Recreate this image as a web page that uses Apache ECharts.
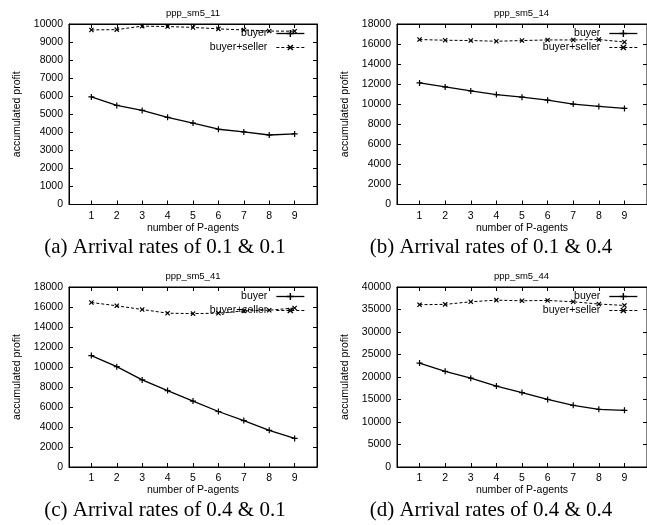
<!DOCTYPE html>
<html>
<head>
<meta charset="utf-8">
<script src="https://cdn.jsdelivr.net/npm/echarts@6/dist/echarts.min.js"></script>
<style>
html,body{margin:0;padding:0;background:#fff;}
#c{width:647px;height:525px;}
</style>
</head>
<body>
<div id="c"></div>
<script>
// ---- data ----
const xValues = [1, 2, 3, 4, 5, 6, 7, 8, 9];
const seriesNames = ['buyer', 'buyer+seller'];
const panelTitles = ['ppp_sm5_11', 'ppp_sm5_14', 'ppp_sm5_41', 'ppp_sm5_44'];
const captions = ['(a) Arrival rates of 0.1 & 0.1', '(b) Arrival rates of 0.1 & 0.4',
                  '(c) Arrival rates of 0.4 & 0.1', '(d) Arrival rates of 0.4 & 0.4'];
const aBuyer = [5960, 5490, 5210, 4830, 4510, 4170, 4020, 3850, 3910];
const aBoth  = [9670, 9690, 9880, 9860, 9810, 9730, 9670, 9610, 9600];
const bBuyer = [12120, 11720, 11330, 10960, 10700, 10400, 10010, 9780, 9580];
const bBoth  = [16450, 16380, 16350, 16280, 16350, 16410, 16410, 16450, 16200];
const cBuyer = [11140, 10030, 8710, 7640, 6590, 5550, 4640, 3670, 2860];
const cBoth  = [16450, 16120, 15750, 15380, 15340, 15380, 15610, 15680, 15900];
const dBuyer = [23100, 21270, 19740, 17990, 16530, 15010, 13700, 12820, 12600];
const dBoth  = [36070, 36140, 36720, 37080, 36940, 37010, 36720, 36210, 35900];
const yMax = [10000, 18000, 18000, 40000];
const yStep = [1000, 2000, 2000, 5000];

// ---- layout ----
const panels = [
  {left: 69,  top: 24,  width: 248, height: 180.5, buyer: aBuyer, both: aBoth},
  {left: 397, top: 24,  width: 253, height: 180.5, buyer: bBuyer, both: bBoth},
  {left: 69,  top: 287, width: 248, height: 180, buyer: cBuyer, both: cBoth},
  {left: 397, top: 287, width: 253, height: 180, buyer: dBuyer, both: dBoth}
];
const SANS = 'Liberation Sans, Arial, sans-serif';
const SERIF = 'Liberation Serif, Times New Roman, serif';
const plusPath = 'path://M4,0h2v4h4v2h-4v4h-2v-4h-4v-2h4z';
const dashPattern = [3, 2];

const grid = [], xAxis = [], yAxis = [], series = [], title = [], legend = [];
panels.forEach((p, i) => {
  grid.push({left: p.left, top: p.top, width: p.width, height: p.height,
             show: true, borderColor: '#000', borderWidth: 1, backgroundColor: 'transparent'});
  const xBase = {gridIndex: i, type: 'value', min: 0.12, max: 9.88,
    splitLine: {show: false},
    axisLine: {show: true, onZero: false, lineStyle: {color: '#000', width: 1}},
    axisTick: {show: true, inside: true, length: 4, customValues: xValues, lineStyle: {color: '#000'}},
    axisLabel: {show: true, customValues: xValues, color: '#000', fontSize: 10.5, fontFamily: SANS, margin: 6}
  };
  xAxis.push(Object.assign({}, xBase, {position: 'bottom', name: 'number of P-agents',
    nameLocation: 'middle', nameGap: 17, nameTextStyle: {color: '#000', fontSize: 10.5, fontFamily: SANS}}));
  xAxis.push(Object.assign({}, xBase, {position: 'top', axisLabel: {show: false}}));
  const yBase = {gridIndex: i, type: 'value', min: 0, max: yMax[i], interval: yStep[i],
    splitLine: {show: false},
    axisLine: {show: true, onZero: false, lineStyle: {color: '#000', width: 1}},
    axisTick: {show: true, inside: true, length: 4, lineStyle: {color: '#000'}},
    axisLabel: {show: true, color: '#000', fontSize: 10.5, fontFamily: SANS, margin: 6,
                formatter: v => String(v)}
  };
  yAxis.push(Object.assign({}, yBase, {position: 'left', name: 'accumulated profit',
    nameLocation: 'middle', nameRotate: 90, nameGap: 46,
    nameTextStyle: {color: '#000', fontSize: 10.5, fontFamily: SANS}}));
  yAxis.push(Object.assign({}, yBase, {position: 'right', axisLabel: {show: false}}));

  series.push({name: 'buyer', type: 'line', xAxisIndex: 2 * i, yAxisIndex: 2 * i,
    data: xValues.map((x, k) => [x, p.buyer[k]]),
    symbol: plusPath, symbolSize: 6, showAllSymbol: true,
    lineStyle: {color: '#000', width: 1.3, type: 'solid'},
    itemStyle: {color: '#000'}, animation: false});
  series.push({name: 'buyer+seller', type: 'line', xAxisIndex: 2 * i, yAxisIndex: 2 * i,
    data: xValues.map((x, k) => [x, p.both[k]]),
    symbol: plusPath, symbolRotate: 45, symbolSize: 6, showAllSymbol: true,
    lineStyle: {color: '#000', width: 1, type: dashPattern},
    itemStyle: {color: '#000'}, animation: false});

  title.push({text: panelTitles[i], left: p.left + p.width / 2 - (i % 2 ? 2 : 0), top: p.top - 16,
    textAlign: 'center', padding: 0,
    textStyle: {color: '#000', fontSize: 9.5, fontWeight: 'normal', fontFamily: SANS}});
  title.push({text: captions[i], left: (i % 2 ? 491 : 165), top: p.top + 213,
    textAlign: 'center', padding: 0,
    textStyle: {color: '#000', fontSize: 21, fontWeight: 'normal', fontFamily: SERIF}});

  legend.push({
    data: [
      {name: seriesNames[0], lineStyle: {width: 1.3, type: 'solid', color: '#000'}},
      {name: seriesNames[1], lineStyle: {width: 1, type: dashPattern, color: '#000'}}
    ],
    orient: 'vertical', align: 'right',
    right: 647 - (p.left + p.width - 12), top: p.top + 4,
    itemWidth: 28, itemHeight: 9, itemGap: 3, padding: 0, selectedMode: false,
    textStyle: {color: '#000', fontSize: 10.5, fontFamily: SANS, padding: [0, 4, 0, 0]}});
});

const chart = echarts.init(document.getElementById('c'), null, {renderer: 'canvas'});
chart.setOption({animation: false, backgroundColor: '#fff',
  grid, xAxis, yAxis, series, title, legend});
</script>
</body>
</html>
